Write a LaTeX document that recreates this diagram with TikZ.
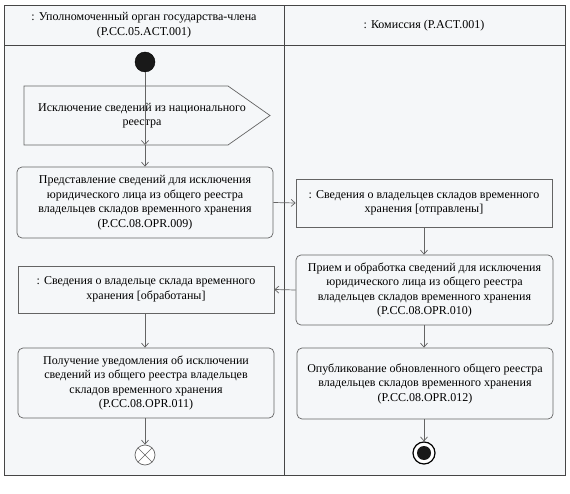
\documentclass[tikz,border=0pt]{standalone}
\usepackage{fontspec}
\setmainfont{Liberation Serif}
\usetikzlibrary{arrows.meta,calc}
\definecolor{lanebg}{RGB}{245,247,249}
\definecolor{framec}{RGB}{70,70,70}
\definecolor{boxc}{RGB}{100,100,100}
\tikzset{
  lane/.style={draw=framec, line width=0.9pt, fill=lanebg},
  act/.style={draw=boxc, line width=0.7pt, fill=lanebg, rounded corners=5pt, align=center, inner sep=0pt},
  obj/.style={draw=boxc, line width=0.7pt, fill=lanebg, align=center, inner sep=0pt},
  txt/.style={font=\fontsize{12}{14.5}\selectfont, align=center},
  arr/.style={draw=boxc, line width=0.7pt, -{Straight Barb[length=4pt,width=7pt]}},
}
\begin{document}
\begin{tikzpicture}[x=1pt,y=-1pt]
\useasboundingbox (0,0) rectangle (570,494);
% lanes
\draw[lane] (4,5) rectangle (284,475);
\draw[lane] (284,5) rectangle (565,475);
\draw[framec, line width=0.9pt] (4,45) -- (565,45);
\node[txt] (h1) at (144,25) {: Уполномоченный орган государства-члена\\(P.CC.05.ACT.001)};
\node[txt] (h2) at (424,26) {: Комиссия (P.ACT.001)};
% start
\node[circle, fill=black!90, draw=black, minimum size=20pt, inner sep=0pt] (start) at (145,62) {};
% signal send
\draw[obj] (24,86) -- (228,86) -- (270,115.5) -- (228,145) -- (24,145) -- cycle;
\node[txt, minimum width=204pt, minimum height=59pt, inner sep=0pt] (send) at (126,115.5) {};
\node[txt] (sendt) at (142,115.5) {Исключение сведений из национального\\реестра};
\coordinate (sendb) at (145,145);
% activity 1
\node[act, txt, minimum width=256pt, minimum height=71pt] (a1) at (145,202.5) {Представление сведений для исключения\\юридического лица из общего реестра\\владельцев складов временного хранения\\(P.CC.08.OPR.009)};
% object right
\node[obj, txt, minimum width=256pt, minimum height=48pt] (o1) at (424,203) {: Сведения о владельцев складов временного\\хранения [отправлены]};
% activity 2
\node[act, txt, minimum width=257pt, minimum height=70pt] (a2) at (424.5,290) {Прием и обработка сведений для исключения\\юридического лица из общего реестра\\владельцев складов временного хранения\\(P.CC.08.OPR.010)};
% object left
\node[obj, txt, minimum width=256pt, minimum height=47pt] (o2) at (146,289.5) {: Сведения о владельце склада временного\\хранения [обработаны]};
% activity 3
\node[act, txt, minimum width=256pt, minimum height=70pt] (a3) at (146,383) {Получение уведомления об исключении\\сведений из общего реестра владельцев\\складов временного хранения\\(P.CC.08.OPR.011)};
% activity 4
\node[act, txt, minimum width=256pt, minimum height=71pt] (a4) at (425,383.5) {Опубликование обновленного общего реестра\\владельцев складов временного хранения\\(P.CC.08.OPR.012)};
% flow final
\node[circle, draw=boxc, line width=0.7pt, fill=white, minimum size=20pt, inner sep=0pt] (ff) at (145,455) {};
\draw[boxc, line width=0.7pt] ($(ff.center)+(-7,-7)$) -- ($(ff.center)+(7,7)$);
\draw[boxc, line width=0.7pt] ($(ff.center)+(-7,7)$) -- ($(ff.center)+(7,-7)$);
% final
\node[circle, draw=black, line width=1.2pt, fill=white, minimum size=22pt, inner sep=0pt] (fin) at (424,453) {};
\node[circle, fill=black!90, minimum size=14pt, inner sep=0pt] (finin) at (424,453) {};
% arrows
\draw[arr] (start) -- (sendb);
\draw[arr] (sendb) -- (a1.north -| sendb);
\draw[arr] (a1.east) -- (o1.west);
\draw[arr] (o1.south) -- (a2.north -| o1.south);
\draw[arr] (a2.west) -- (o2.east);
\draw[arr] (o2.south -| 145,0) -- (a3.north -| 145,0);
\draw[arr] (a3.south -| 145,0) -- (ff.north);
\draw[arr] (a2.south -| 424,0) -- (a4.north -| 424,0);
\draw[arr] (a4.south -| 424,0) -- (fin.north);
\end{tikzpicture}
\end{document}
